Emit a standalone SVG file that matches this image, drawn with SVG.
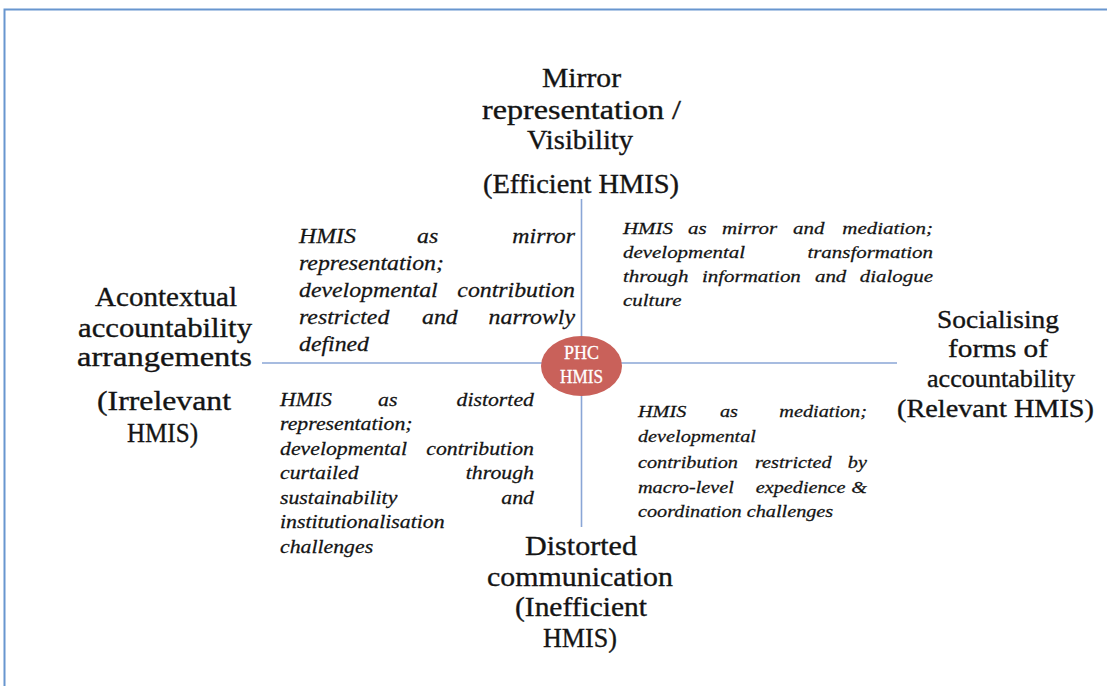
<svg xmlns="http://www.w3.org/2000/svg" width="1107" height="686" viewBox="0 0 1107 686">
<style>
.h{font-family:"Liberation Serif",serif;fill:#141414;stroke:#141414;stroke-width:0.35;}
.it{font-family:"Liberation Serif",serif;font-style:italic;fill:#141414;stroke:#141414;stroke-width:0.25;}
.e{text-anchor:end;}
.ax{stroke:#8aa6d6;stroke-width:1.6;fill:none;}
.phc{font-family:"Liberation Serif",serif;fill:#ffffff;stroke:#ffffff;stroke-width:0.3;font-size:19px;}
</style>
<rect width="1107" height="686" fill="#ffffff"/>
<path d="M4.5,686 V9.5 H1107" fill="none" stroke="#6896cf" stroke-width="2"/>
<g id="connectors">
<line class="ax" x1="581.5" y1="199" x2="581.5" y2="527"/>
<line class="ax" x1="262" y1="363" x2="897" y2="363"/>
</g>
<g id="center">
<ellipse cx="581.5" cy="366" rx="40.5" ry="30" fill="#c9615a"/>
<text class="phc" x="564" y="359" textLength="35" lengthAdjust="spacingAndGlyphs">PHC</text>
<text class="phc" x="560" y="383" textLength="43" lengthAdjust="spacingAndGlyphs">HMIS</text>
</g>
<g id="top" class="h" font-size="27">
<text x="542" y="87" textLength="79" lengthAdjust="spacingAndGlyphs">Mirror</text>
<text x="482" y="119" textLength="199" lengthAdjust="spacingAndGlyphs">representation /</text>
<text x="527" y="149" textLength="106" lengthAdjust="spacingAndGlyphs">Visibility</text>
<text x="483" y="193" textLength="196" lengthAdjust="spacingAndGlyphs">(Efficient HMIS)</text>
</g>
<g id="left" class="h" font-size="27">
<text x="95" y="306" textLength="142" lengthAdjust="spacingAndGlyphs">Acontextual</text>
<text x="78" y="337" textLength="174" lengthAdjust="spacingAndGlyphs">accountability</text>
<text x="77" y="366" textLength="175" lengthAdjust="spacingAndGlyphs">arrangements</text>
<text x="97" y="410" textLength="134" lengthAdjust="spacingAndGlyphs">(Irrelevant</text>
<text x="127" y="442" textLength="71" lengthAdjust="spacingAndGlyphs">HMIS)</text>
</g>
<g id="right" class="h" font-size="26">
<text x="937" y="328" textLength="122" lengthAdjust="spacingAndGlyphs">Socialising</text>
<text x="948" y="357" textLength="100" lengthAdjust="spacingAndGlyphs">forms of</text>
<text x="927" y="387" textLength="148" lengthAdjust="spacingAndGlyphs">accountability</text>
<text x="897" y="417" textLength="197" lengthAdjust="spacingAndGlyphs">(Relevant HMIS)</text>
</g>
<g id="bottom" class="h" font-size="28">
<text x="525" y="555" textLength="112" lengthAdjust="spacingAndGlyphs">Distorted</text>
<text x="487" y="586" textLength="186" lengthAdjust="spacingAndGlyphs">communication</text>
<text x="515" y="616" textLength="132" lengthAdjust="spacingAndGlyphs">(Inefficient</text>
<text x="543" y="647" textLength="74" lengthAdjust="spacingAndGlyphs">HMIS)</text>
</g>
<g id="quadrant-top-left" class="it" font-size="20" transform="translate(299,0) scale(1.19,1)">
<text x="0" y="243">HMIS</text><text x="99.2" y="243">as</text><text class="e" x="231.9" y="243">mirror</text>
<text x="0" y="270">representation;</text>
<text x="0" y="297">developmental</text><text class="e" x="231.9" y="297">contribution</text>
<text x="0" y="324">restricted</text><text x="103.4" y="324">and</text><text class="e" x="231.9" y="324">narrowly</text>
<text x="0" y="351">defined</text>
</g>
<g id="quadrant-top-right" class="it" font-size="17.6" transform="translate(623,0) scale(1.19,1)">
<text x="0" y="234">HMIS</text><text x="54.6" y="234">as</text><text x="83.2" y="234">mirror</text><text x="142.9" y="234">and</text><text class="e" x="260.5" y="234">mediation;</text>
<text x="0" y="258">developmental</text><text class="e" x="260.5" y="258">transformation</text>
<text x="0" y="282">through</text><text x="66.4" y="282">information</text><text x="161.3" y="282">and</text><text class="e" x="260.5" y="282">dialogue</text>
<text x="0" y="306">culture</text>
</g>
<g id="quadrant-bottom-left" class="it" font-size="18.3" transform="translate(280,0) scale(1.19,1)">
<text x="0" y="406">HMIS</text><text x="82.4" y="406">as</text><text class="e" x="213.4" y="406">distorted</text>
<text x="0" y="430.5">representation;</text>
<text x="0" y="455">developmental</text><text class="e" x="213.4" y="455">contribution</text>
<text x="0" y="479.5">curtailed</text><text class="e" x="213.4" y="479.5">through</text>
<text x="0" y="504">sustainability</text><text class="e" x="213.4" y="504">and</text>
<text x="0" y="528.5">institutionalisation</text>
<text x="0" y="553">challenges</text>
</g>
<g id="quadrant-bottom-right" class="it" font-size="17" transform="translate(638,0) scale(1.19,1)">
<text x="0" y="417">HMIS</text><text x="68.9" y="417">as</text><text class="e" x="192.4" y="417">mediation;</text>
<text x="0" y="442.5">developmental</text>
<text x="0" y="468">contribution</text><text x="98.3" y="468">restricted</text><text class="e" x="192.4" y="468">by</text>
<text x="0" y="493">macro-level</text><text x="99" y="493">expedience</text><text class="e" x="192.4" y="493">&amp;</text>
<text x="0" y="517.5">coordination challenges</text>
</g>
</svg>
